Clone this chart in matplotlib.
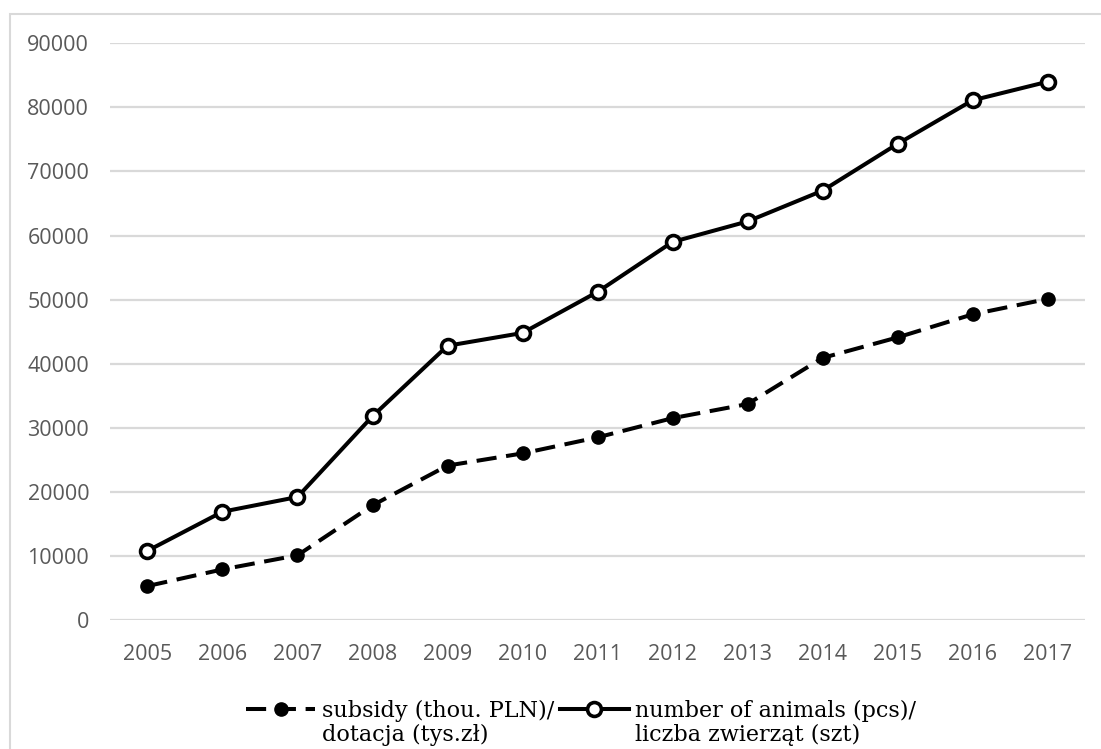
"""
Subsidy vs number of animals, 2005-2017 (line chart with two series).
"""

import matplotlib

matplotlib.use("Agg")

import matplotlib.pyplot as plt
from matplotlib.patches import Rectangle

# data
years = ["2005", "2006", "2007", "2008", "2009", "2010", "2011",
         "2012", "2013", "2014", "2015", "2016", "2017"]
subsidy = [5300, 7900, 10100, 17900, 24100, 26000, 28500,
           31500, 33700, 40900, 44100, 47700, 50100]
animals = [10800, 16900, 19200, 31800, 42800, 44800, 51200,
           59000, 62200, 67000, 74300, 81100, 84000]
yTicks = [0, 10000, 20000, 30000, 40000, 50000, 60000, 70000, 80000, 90000]

subsidyLabel = "subsidy (thou. PLN)/\ndotacja (tys.zł)"
animalsLabel = "number of animals (pcs)/\nliczba zwierząt (szt)"

GRID = "#d9d9d9"
TICK = "#595959"

fig = plt.figure(figsize=(11.01, 7.49), dpi=100)
ax = fig.add_axes([0.0999, 0.1722, 0.8856, 0.7700])

# light frame round the chart area (only left and top are inside the picture)
fig.add_artist(Rectangle((0.0091, -0.05), 1.2, 0.9813 + 0.05,
                         transform=fig.transFigure, fill=False,
                         edgecolor=GRID, linewidth=1.5))

x = list(range(len(years)))
lineSub, = ax.plot(x, subsidy, color="black", linewidth=2.9,
                   linestyle=(0, (5.0, 2.4)), marker="o", markersize=9.5,
                   markerfacecolor="black", markeredgecolor="black",
                   dash_capstyle="butt")
lineAni, = ax.plot(x, animals, color="black", linewidth=2.9,
                   marker="o", markersize=10, markerfacecolor="white",
                   markeredgecolor="black", markeredgewidth=2.6)

ax.set_xlim(-0.5, len(years) - 0.5)
ax.set_ylim(0, 90000)
ax.set_xticks(x)
ax.set_xticklabels(years)
ax.set_yticks(yTicks)
ax.set_yticklabels([str(v) for v in yTicks])

ax.grid(axis="y", color=GRID, linewidth=1.6)
ax.set_axisbelow(True)
for side in ["top", "right", "left", "bottom"]:
    ax.spines[side].set_visible(False)
ax.tick_params(axis="both", length=0, labelcolor=TICK, labelsize=15.5)
ax.tick_params(axis="y", pad=15)
ax.tick_params(axis="x", pad=17)
for lab in ax.get_xticklabels() + ax.get_yticklabels():
    lab.set_fontfamily("Open Sans")

leg = fig.legend([lineSub, lineAni], [subsidyLabel, animalsLabel],
                 loc="upper center", bbox_to_anchor=(0.528, 0.099),
                 ncol=2, frameon=False, handlelength=3.1, handleheight=5.2,
                 handletextpad=0.3, columnspacing=0.25, borderpad=0,
                 prop={"family": "DejaVu Serif", "size": 16})
for t in leg.get_texts():
    t.set_linespacing(1.1)

fig.savefig("out.png", dpi=100)
plt.close(fig)
